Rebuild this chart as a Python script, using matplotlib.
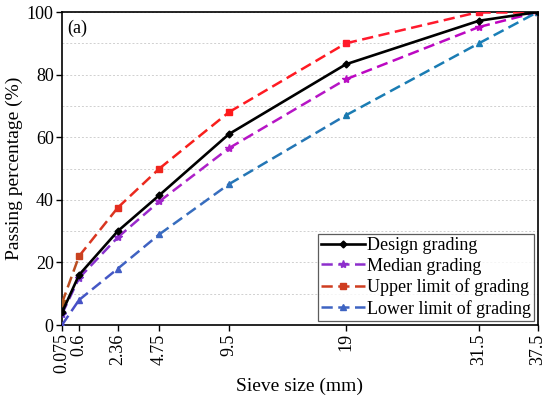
import matplotlib
matplotlib.use("Agg")
import matplotlib.pyplot as plt
import numpy as np
from matplotlib.colors import LinearSegmentedColormap

sieve = [0.075, 0.6, 2.36, 4.75, 9.5, 19, 31.5, 37.5]
tick_labels = ["0.075", "0.6", "2.36", "4.75", "9.5", "19", "31.5", "37.5"]
design = [4, 16, 30, 41.5, 61, 83.3, 97.2, 100]
median = [3.5, 15, 28, 39.5, 56.5, 78.5, 95.2, 100]
upper = [7, 22, 37.5, 50, 68, 90, 100, 100]
lower = [0, 8, 18, 29, 45, 67, 90, 100]

plt.rcParams['font.family'] = ['Liberation Serif', 'DejaVu Serif']

fig = plt.figure(figsize=(5.5, 3.98), dpi=100)
ax = fig.add_axes([0.1127, 0.1834, 0.865, 0.7864])

p = 0.75
ax.set_xscale('function', functions=(lambda x: np.sign(x) * np.abs(x) ** p,
                                     lambda y: np.sign(y) * np.abs(y) ** (1 / p)))

DASH = (0, (4.5, 2.2))

def grad_line(x, y, cmap, marker, ms, label, lw=1.8):
    x = np.asarray(x, float); y = np.asarray(y, float)
    for i in range(len(x) - 1):
        c = cmap(((y[i] + y[i + 1]) / 2) / 100)
        ax.plot(x[i:i + 2], y[i:i + 2], color=c, lw=lw, ls=DASH, zorder=3)
    for xi, yi in zip(x, y):
        ax.plot([xi], [yi], marker=marker, ms=ms, color=cmap(yi / 100),
                mec=cmap(yi / 100), ls='none', zorder=4)
    c0 = cmap(0.25)
    ax.plot([], [], color=c0, lw=lw, ls=DASH, marker=marker, ms=ms,
            label=label)

ax.plot(sieve, design, color='black', lw=1.9, marker='D', ms=3.5, zorder=5,
        label='Design grading')
cm_med = LinearSegmentedColormap.from_list('m', ['#6a3cd0', '#b020c8', '#c000c0'])
cm_up = LinearSegmentedColormap.from_list('u', ['#9c6420', '#e03020', '#ff1a1a', '#ff1a30'])
cm_lo = LinearSegmentedColormap.from_list('l', ['#4a4ac8', '#3a6cc0', '#1a7ab0', '#1a80b8'])
grad_line(sieve, median, cm_med, '*', 6, 'Median grading')
grad_line(sieve, upper, cm_up, 's', 5, 'Upper limit of grading')
grad_line(sieve, lower, cm_lo, '^', 5, 'Lower limit of grading')

ax.set_xlim(0.075, 37.5)
ax.set_ylim(0, 100)
ax.set_xticks(sieve)
ax.set_xticklabels(tick_labels, rotation=90, fontsize=13)
ax.set_yticks([0, 20, 40, 60, 80, 100])
ax.set_yticks(np.arange(10, 100, 20), minor=True)
ax.tick_params(axis='y', which='minor', length=0)
ax.tick_params(axis='both', which='major', direction='out', length=4, width=1,
               labelsize=13, pad=2)
ax.grid(axis='y', which='both', color='#d0d0d0', ls=(0, (2, 2)), lw=0.7)
ax.set_axisbelow(True)
for s in ax.spines.values():
    s.set_linewidth(1.2)

ax.set_xlabel('Sieve size (mm)', fontsize=14, labelpad=3)
ax.set_ylabel('Passing percentage (%)', fontsize=14, labelpad=3)
ax.text(0.012, 0.975, '(a)', transform=ax.transAxes, ha='left', va='top',
        fontsize=13)

leg = ax.legend(loc='lower right', fontsize=13, frameon=True, fancybox=False,
                edgecolor='#333333', borderaxespad=0.2, handlelength=2.4,
                handletextpad=0.1, labelspacing=0.2, borderpad=0.2)
leg.get_frame().set_linewidth(0.9)

fig.savefig('out.png', dpi=100)
